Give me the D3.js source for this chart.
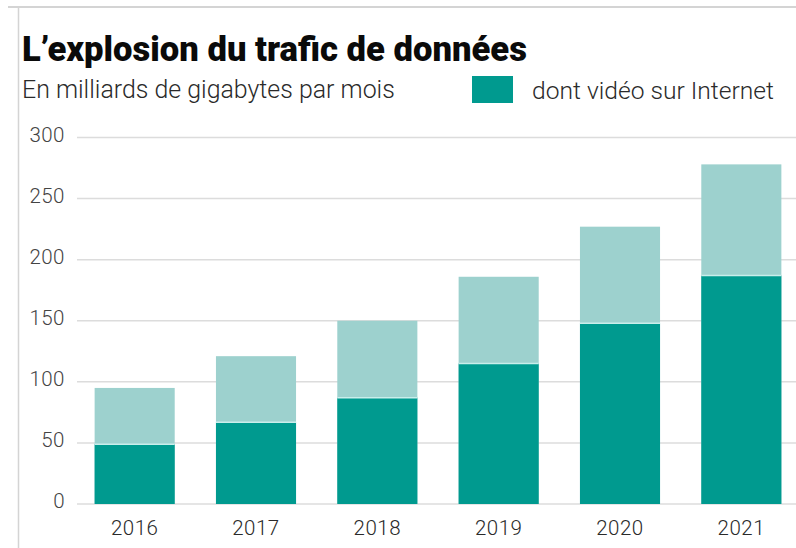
<!DOCTYPE html>
<html>
<head>
<meta charset="utf-8">
<script src="https://cdn.jsdelivr.net/npm/d3@7"></script>
<style>
  html, body { margin: 0; padding: 0; background: #fff; }
  svg { display: block; font-family: Roboto, "Noto Sans", sans-serif; }
</style>
</head>
<body>
<div id="chart"></div>
<script>
const years = ["2016", "2017", "2018", "2019", "2020", "2021"];
const totalTraffic = [95, 121, 150, 186, 227, 278];
const videoTraffic = [49, 67, 87, 115, 148, 187];
const yTicks = [0, 50, 100, 150, 200, 250, 300];

const width = 796;
const height = 548;

const svg = d3.select("#chart")
  .append("svg")
  .attr("width", width)
  .attr("height", height);

// frame lines (top + left)
svg.append("line")
  .attr("x1", 8).attr("x2", width)
  .attr("y1", 7).attr("y2", 7)
  .attr("stroke", "#d4d4d4").attr("stroke-width", 2);
svg.append("line")
  .attr("x1", 18.5).attr("x2", 18.5)
  .attr("y1", 7).attr("y2", height)
  .attr("stroke", "#d4d4d4").attr("stroke-width", 1.5);

// shrink or grow a text to a given width
function fit(sel, w) {
  const node = sel.node();
  const fs = parseFloat(sel.attr("font-size"));
  const cur = node.getComputedTextLength();
  sel.attr("font-size", (fs * w / cur).toFixed(2));
}

const title = svg.append("text")
  .attr("x", 22).attr("y", 61)
  .attr("font-size", 29).attr("font-weight", 900)
  .attr("fill", "#0a0a0a")
  .text("L\u2019explosion du trafic de données");
fit(title, 505);

const sub = svg.append("text")
  .attr("x", 22).attr("y", 98)
  .attr("font-size", 20).attr("font-weight", 300)
  .attr("fill", "#2a2a2a")
  .text("En milliards de gigabytes par mois");
fit(sub, 373);

const x = d3.scaleBand()
  .domain(years)
  .range([74, 802])
  .paddingInner(0.34)
  .paddingOuter(0.17);

const y = d3.scaleLinear()
  .domain([0, 300])
  .range([504, 137.5]);

const darkTeal = "#009a8f";
const lightTeal = "#9dd1ce";

// legend
svg.append("rect")
  .attr("x", 472).attr("y", 76)
  .attr("width", 41).attr("height", 27)
  .attr("fill", darkTeal);
const leg = svg.append("text")
  .attr("x", 532).attr("y", 99)
  .attr("font-size", 20).attr("font-weight", 300)
  .attr("fill", "#2a2a2a")
  .text("dont vidéo sur Internet");
fit(leg, 242);

// gridlines
svg.append("g")
  .selectAll("line")
  .data(yTicks)
  .join("line")
  .attr("x1", 77).attr("x2", width)
  .attr("y1", d => y(d)).attr("y2", d => y(d))
  .attr("stroke", "#dcdcdc").attr("stroke-width", 1.5);

// y axis labels
svg.append("g")
  .selectAll("text")
  .data(yTicks)
  .join("text")
  .attr("x", 65)
  .attr("y", d => y(d) + 4)
  .attr("text-anchor", "end")
  .attr("font-size", 20.5).attr("font-weight", 300)
  .attr("letter-spacing", 0.5)
  .attr("fill", "#444")
  .text(d => d);

const data = years.map((yr, i) => ({ year: yr, total: totalTraffic[i], video: videoTraffic[i] }));

const bars = svg.append("g");

bars.selectAll("rect.total")
  .data(data)
  .join("rect")
  .attr("class", "total")
  .attr("x", d => x(d.year))
  .attr("width", x.bandwidth())
  .attr("y", d => y(d.total))
  .attr("height", d => y(0) - y(d.total))
  .attr("fill", lightTeal);

bars.selectAll("rect.video")
  .data(data)
  .join("rect")
  .attr("class", "video")
  .attr("x", d => x(d.year))
  .attr("width", x.bandwidth())
  .attr("y", d => y(d.video))
  .attr("height", d => y(0) - y(d.video))
  .attr("fill", darkTeal);

// thin light separator between the two parts
bars.selectAll("line.sep")
  .data(data)
  .join("line")
  .attr("class", "sep")
  .attr("x1", d => x(d.year))
  .attr("x2", d => x(d.year) + x.bandwidth())
  .attr("y1", d => y(d.video))
  .attr("y2", d => y(d.video))
  .attr("stroke", "#c9eeeb").attr("stroke-width", 1.5);

// x axis labels
svg.append("g")
  .selectAll("text")
  .data(years)
  .join("text")
  .attr("x", d => x(d) + x.bandwidth() / 2)
  .attr("y", 535)
  .attr("text-anchor", "middle")
  .attr("font-size", 20.5).attr("font-weight", 300)
  .attr("letter-spacing", 0.5)
  .attr("fill", "#2a2a2a")
  .text(d => d);
</script>
</body>
</html>
